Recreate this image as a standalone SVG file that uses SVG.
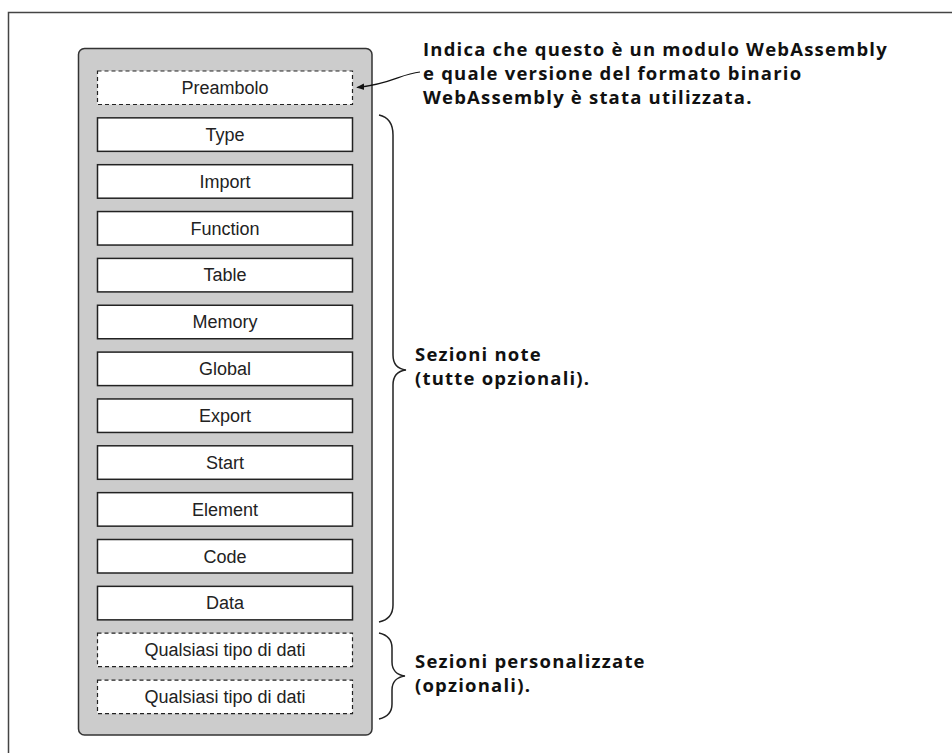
<svg xmlns="http://www.w3.org/2000/svg" width="952" height="753" viewBox="0 0 952 753">
<style>
.box{fill:#fff;stroke:#222;stroke-width:1.5}
.dash{fill:#fff;stroke:#222;stroke-width:1.2;stroke-dasharray:4 3}
.lbl{font-family:"Liberation Sans",Arial,sans-serif;font-size:18px;fill:#222;text-anchor:middle}
.note{font-family:"Open Sans","Noto Sans",sans-serif;font-weight:bold;font-size:18.5px;letter-spacing:1.2px;fill:#111}
.br{fill:none;stroke:#222;stroke-width:1.5}
</style>
<defs>
<marker id="ah" viewBox="0 0 10 10" refX="9" refY="5" markerWidth="8" markerHeight="8" orient="auto-start-reverse" markerUnits="userSpaceOnUse">
<path d="M0,1 L10,5 L0,9 z" fill="#111"/>
</marker>
</defs>
<rect x="0" y="0" width="952" height="753" fill="#fff"/>
<path d="M8.5,760 L8.5,12.5 L960,12.5" fill="none" stroke="#444" stroke-width="1.5"/>
<g id="module">
<rect x="78.5" y="48.5" width="293.5" height="686.5" rx="6" fill="#cccccc" stroke="#333" stroke-width="1.5"/>
</g>
<g id="n-preambolo"><rect class="dash" x="97.5" y="71" width="255" height="33.5"/><text class="lbl" x="225" y="94">Preambolo</text></g>
<g id="n-type"><rect class="box" x="97.5" y="117.85" width="255" height="33.5"/><text class="lbl" x="225" y="140.85">Type</text></g>
<g id="n-import"><rect class="box" x="97.5" y="164.7" width="255" height="33.5"/><text class="lbl" x="225" y="187.7">Import</text></g>
<g id="n-function"><rect class="box" x="97.5" y="211.55" width="255" height="33.5"/><text class="lbl" x="225" y="234.55">Function</text></g>
<g id="n-table"><rect class="box" x="97.5" y="258.4" width="255" height="33.5"/><text class="lbl" x="225" y="281.4">Table</text></g>
<g id="n-memory"><rect class="box" x="97.5" y="305.25" width="255" height="33.5"/><text class="lbl" x="225" y="328.25">Memory</text></g>
<g id="n-global"><rect class="box" x="97.5" y="352.1" width="255" height="33.5"/><text class="lbl" x="225" y="375.1">Global</text></g>
<g id="n-export"><rect class="box" x="97.5" y="398.95" width="255" height="33.5"/><text class="lbl" x="225" y="421.95">Export</text></g>
<g id="n-start"><rect class="box" x="97.5" y="445.8" width="255" height="33.5"/><text class="lbl" x="225" y="468.8">Start</text></g>
<g id="n-element"><rect class="box" x="97.5" y="492.65" width="255" height="33.5"/><text class="lbl" x="225" y="515.65">Element</text></g>
<g id="n-code"><rect class="box" x="97.5" y="539.5" width="255" height="33.5"/><text class="lbl" x="225" y="562.5">Code</text></g>
<g id="n-data"><rect class="box" x="97.5" y="586.35" width="255" height="33.5"/><text class="lbl" x="225" y="609.35">Data</text></g>
<g id="n-custom1"><rect class="dash" x="97.5" y="633.2" width="255" height="33.5"/><text class="lbl" x="225" y="656.2">Qualsiasi tipo di dati</text></g>
<g id="n-custom2"><rect class="dash" x="97.5" y="680.05" width="255" height="33.5"/><text class="lbl" x="225" y="703.05">Qualsiasi tipo di dati</text></g>
<g id="connectors">
<path d="M420,72 C400,74 392,84 357,87.5" fill="none" stroke="#111" stroke-width="1.2" marker-end="url(#ah)"/>
<path class="br" d="M379,115 C388,117 393,124 393,135 L393,355 C393,364 398,369 406,370 C398,371 393,376 393,385 L393,605 C393,615 388,620 379,622"/>
<path class="br" d="M379,633 C388,635 392,640 392,648 L392,662 C392,670 397,675 405,676 C397,677 392,682 392,690 L392,704 C392,712 388,717 379,719"/>
</g>
<g id="t-preambolo">
<text class="note" x="423" y="56">Indica che questo è un modulo WebAssembly</text>
<text class="note" x="423" y="80">e quale versione del formato binario</text>
<text class="note" x="423" y="104">WebAssembly è stata utilizzata.</text>
</g>
<g id="t-note">
<text class="note" x="415" y="361">Sezioni note</text>
<text class="note" x="415" y="385">(tutte opzionali).</text>
</g>
<g id="t-custom">
<text class="note" x="415" y="668">Sezioni personalizzate</text>
<text class="note" x="415" y="692">(opzionali).</text>
</g>
</svg>
